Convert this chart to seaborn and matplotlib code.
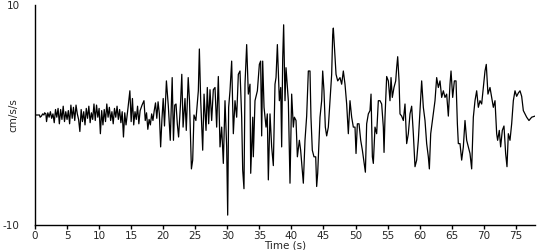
import matplotlib
matplotlib.use("Agg")
import matplotlib.pyplot as plt
import seaborn as sns
import pandas as pd

time_s = [
    0.0, 0.5, 0.7, 0.8, 1.0, 1.2, 1.4, 1.5, 1.7, 1.8, 2.0, 2.2, 2.4, 2.6, 2.8, 3.0,
    3.2, 3.4, 3.6, 3.8, 4.0, 4.2, 4.4, 4.6, 4.8, 5.0, 5.2, 5.4, 5.6, 5.8, 6.0, 6.2,
    6.4, 6.6, 6.8, 7.0, 7.2, 7.4, 7.6, 7.8, 8.0, 8.2, 8.4, 8.6, 8.8, 9.0, 9.2, 9.4,
    9.6, 9.8, 10.0, 10.2, 10.4, 10.6, 10.8, 11.0, 11.2, 11.4, 11.6, 11.8, 12.0, 12.2,
    12.4, 12.6, 12.8, 13.0, 13.2, 13.4, 13.6, 13.8, 14.0, 14.2, 14.5, 14.8, 15.0, 15.2,
    15.4, 15.6, 15.8, 16.0, 16.2, 16.4, 16.7, 17.0, 17.2, 17.4, 17.6, 17.8, 18.0, 18.2,
    18.4, 18.6, 18.8, 19.0, 19.2, 19.4, 19.6, 19.8, 20.0, 20.2, 20.5, 20.8, 21.1, 21.4,
    21.6, 21.8, 22.0, 22.2, 22.4, 22.7, 22.9, 23.1, 23.4, 23.6, 23.9, 24.1, 24.4, 24.6,
    24.8, 25.1, 25.48, 25.64, 25.85, 26.16, 26.37, 26.68, 26.88, 27.09, 27.3, 27.56,
    27.82, 28.08, 28.34, 28.6, 28.86, 29.12, 29.38, 29.64, 29.9, 30.06, 30.21, 30.42,
    30.68, 30.94, 31.2, 31.46, 31.72, 31.98, 32.24, 32.4, 32.6, 32.76, 33.02, 33.28,
    33.54, 33.65, 33.97, 34.06, 34.32, 34.69, 35.0, 35.2, 35.36, 35.52, 35.73, 36.04,
    36.24, 36.4, 36.66, 36.92, 37.18, 37.44, 37.6, 37.81, 38.12, 38.33, 38.48, 38.64,
    38.79, 39.0, 39.16, 39.37, 39.52, 39.78, 40.04, 40.3, 40.46, 40.72, 40.93, 41.24,
    41.44, 41.65, 41.86, 42.12, 42.38, 42.64, 42.9, 43.05, 43.26, 43.52, 43.79, 43.94,
    44.1, 44.46, 44.72, 44.88, 45.08, 45.29, 45.5, 45.76, 46.02, 46.28, 46.44, 46.54,
    46.7, 46.96, 47.22, 47.58, 47.84, 48.1, 48.36, 48.62, 48.88, 49.14, 49.4, 49.66,
    49.92, 50.08, 50.29, 50.55, 50.81, 51.07, 51.33, 51.54, 51.74, 52.0, 52.26, 52.42,
    52.63, 52.78, 53.04, 53.3, 53.56, 53.82, 54.08, 54.34, 54.45, 54.6, 54.86, 55.12,
    55.38, 55.54, 55.74, 56.0, 56.27, 56.42, 56.58, 56.79, 56.94, 57.2, 57.46, 57.72,
    57.98, 58.24, 58.5, 58.76, 59.02, 59.28, 59.54, 59.8, 60.06, 60.32, 60.58, 60.84,
    61.1, 61.36, 61.52, 61.73, 62.14, 62.4, 62.66, 62.92, 63.18, 63.44, 63.7, 63.96,
    64.22, 64.48, 64.74, 64.9, 65.16, 65.42, 65.68, 65.89, 66.04, 66.3, 66.56, 66.82,
    67.08, 67.34, 67.6, 67.86, 68.12, 68.38, 68.64, 68.9, 69.16, 69.42, 69.68, 69.94,
    70.2, 70.4, 70.66, 70.98, 71.24, 71.5, 71.76, 72.02, 72.17, 72.43, 72.64, 72.9,
    73.16, 73.42, 73.63, 73.84, 74.1, 74.36, 74.62, 74.88, 75.14, 75.4, 75.66, 75.92,
    76.18, 76.44, 76.7, 77.06, 77.48, 78.0,
]

accel = [
    0.0, 0.0, 0.0, -0.2, -0.1, 0.1, 0.0, 0.2, 0.1, -0.6, 0.2, -0.2, 0.3, -0.3, 0.1, -0.7,
    0.5, -0.2, 0.6, -0.8, 0.5, -0.4, 0.8, -0.6, 0.3, -0.4, 0.4, -0.8, 0.9, -0.3, 0.7, -0.5,
    0.9, 0.1, -0.4, -1.5, 0.5, -0.6, 0.3, -0.9, 0.6, -0.3, 0.8, -0.7, 0.2, -0.4, 1.0, -0.5,
    0.9, -0.2, 0.6, -1.7, 0.4, -0.9, 0.5, -0.6, 1.0, -0.2, 0.7, -0.5, 0.3, -0.8,
    0.6, -0.2, 0.8, -0.4, 0.5, -0.7, 0.3, -2.0, 0.2, -0.9, 0.6, 2.2, -0.6, 1.5,
    -0.9, 0.3, -0.4, 0.8, -0.8, 0.4, 0.9, 1.3, -0.5, 0.2, -1.3, -0.4, -0.9, 0.1,
    -0.5, 0.4, 1.1, -0.3, 1.2, 0.1, -2.9, -0.4, 1.5, -1.0, 3.1, 0.8, -2.3, 3.4,
    -2.3, 0.9, 1.0, -0.8, -2.0, 1.0, 3.7, -1.1, 1.5, -1.4, 3.4, 1.3, -4.9, -4.1,
    0.0, -0.5, 2.2, 6.0, 1.3, -3.2, 1.9, -1.4, 2.5, -0.8, 2.3, -0.5,
    2.3, 2.5, -1.1, 3.5, -2.9, -1.1, -4.4, 1.3, -2.9, -9.1, 0.7, 2.2,
    4.9, -1.7, 1.3, -0.2, 3.7, 4.0, -0.2, -5.0, -6.7, 2.8, 6.4, 1.9,
    2.8, -5.3, -0.2, -3.8, 1.3, 2.2, 4.6, 4.9, -1.9, 4.9, 0.7, -1.1,
    0.1, -5.9, 0.1, -2.9, -4.6, 2.8, 3.4, 6.4, 1.3, 2.5, -2.9, 5.1,
    8.2, 1.3, 4.3, 2.5, 1.3, -6.2, 1.9, -1.1, -0.2, -0.5, -3.8, -2.3,
    -3.2, -4.7, -6.2, -2.3, -0.1, 4.0, 4.0, -0.2, -3.2, -3.8, -3.8, -6.5,
    -5.3, -0.2, 1.3, 4.0, 2.2, -1.1, -1.9, -1.1, 1.3, 3.7, 7.3, 7.9,
    6.3, 3.7, 3.1, 3.4, 2.8, 4.0, 2.8, 1.0, -1.7, 1.3, -0.2, -1.1,
    -1.1, -3.5, -0.8, -0.8, -2.3, -3.2, -4.3, -5.2, -0.8, 0.1, 0.4, 1.9,
    -3.8, -4.4, -1.1, -1.7, 1.3, 1.3, 1.0, -1.1, -3.4, -0.2, 3.5, 3.1,
    1.3, 3.4, 1.6, 2.5, 3.1, 4.3, 5.3, 3.1, 0.1, -0.1, -0.5, 1.0,
    -2.6, -1.7, 0.1, 0.8, -1.7, -4.7, -4.1, -2.3, 0.4, 3.1, 0.7, -0.5,
    -2.6, -3.8, -4.9, -1.7, 0.1, 1.3, 3.4, 2.5, 3.1, 1.6, 2.2, 1.6,
    1.9, -0.1, 2.8, 4.0, 1.6, 3.1, 3.1, -0.8, -2.6, -2.6, -4.1, -2.9,
    -0.5, -2.3, -2.9, -3.5, -4.9, -0.2, 1.3, 2.2, 0.7, 1.3, 1.0, 2.5,
    4.0, 4.6, 1.9, 2.5, 1.6, 0.7, 1.3, -1.7, -2.3, -1.4, -2.9, -1.4,
    -1.0, -3.5, -4.7, -1.7, -2.3, -0.8, 1.3, 2.2, 1.7, 2.0, 2.2, 1.7,
    0.4, 0.1, -0.2, -0.5, -0.2, -0.1,
]

x_ticks = [0, 5, 10, 15, 20, 25, 30, 35, 40, 45, 50, 55, 60, 65, 70, 75]
y_ticks = [-10, 10]
x_label = "Time (s)"
y_label = "cm/s/s"

sns.set_style("ticks")
plt.rcParams["font.family"] = ["DejaVu Sans"]

df = pd.DataFrame({"t": time_s, "a": accel})

fig = plt.figure(figsize=(5.5, 2.5), dpi=100)
ax = fig.add_axes([35 / 550, 25 / 250, 500 / 550, 220 / 250])
sns.lineplot(data=df, x="t", y="a", ax=ax, color="black", linewidth=0.9, sort=False)

ax.set_xlim(0, 78)
ax.set_ylim(-10, 10)
ax.set_xticks(x_ticks)
ax.set_yticks(y_ticks)
ax.set_yticklabels([str(v) for v in y_ticks])
ax.tick_params(axis="x", length=3, width=1, color="black", labelsize=7.5, pad=1)
ax.tick_params(axis="y", length=0, labelsize=7.5, pad=11)
ax.set_xlabel(x_label, fontsize=7.5, labelpad=0)
ax.set_ylabel(y_label, fontsize=7.5)
ax.yaxis.set_label_coords(-0.034, 0.5)
for side in ["top", "right"]:
    ax.spines[side].set_visible(False)
for side in ["left", "bottom"]:
    ax.spines[side].set_color("black")
    ax.spines[side].set_linewidth(1)
ax.grid(False)

fig.savefig("out.png", dpi=100, facecolor="white")
